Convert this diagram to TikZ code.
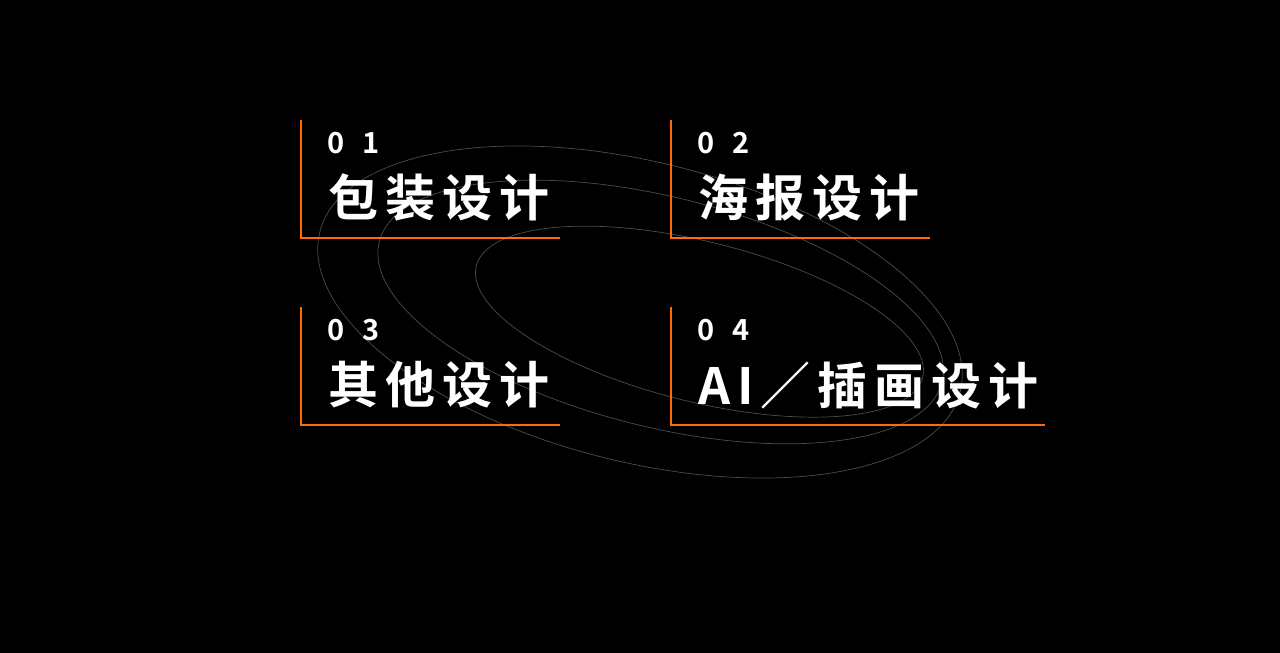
\documentclass[tikz,border=0pt]{standalone}
\usepackage{fontspec}
\newfontfamily\cjkls[LetterSpace=14]{Noto Sans CJK SC Bold}
\newfontfamily\numls[LetterSpace=40]{Noto Sans CJK SC Bold}
\begin{document}
\begin{tikzpicture}[x=1pt,y=-1pt,
  ring/.style={draw=white!30!black,line width=0.7pt},
  frame/.style={draw=orange!85!red,line width=2pt},
  num/.style={anchor=west,text=white,font=\numls\fontsize{29}{29}\selectfont,inner sep=0pt},
  ttl/.style={anchor=west,text=white,font=\cjkls\fontsize{50}{50}\selectfont,inner sep=0pt}]
\fill[black] (0,0) rectangle (1280,653);
\useasboundingbox (0,0) rectangle (1280,653);
\begin{scope}[shift={(640,312)},rotate=-14]
\draw[ring] (0,0) ellipse [x radius=330,y radius=150];
\draw[ring] (20,-5) ellipse [x radius=290,y radius=115];
\draw[ring] (60,-5) ellipse [x radius=230,y radius=80];
\end{scope}
\foreach \x/\y/\w/\n/\t in {301/120/259/0 1/包装设计, 671/120/259/0 2/海报设计, 301/307/259/0 3/其他设计, 671/307/374/0 4/AI／插画设计}{
  \draw[frame] (\x,\y) -- (\x,\y+118) -- (\x+\w,\y+118);
  \node[num] at (\x+26,\y+23) {\n};
  \node[ttl] at (\x+27,\y+78) {\t};
}
\end{tikzpicture}
\end{document}
